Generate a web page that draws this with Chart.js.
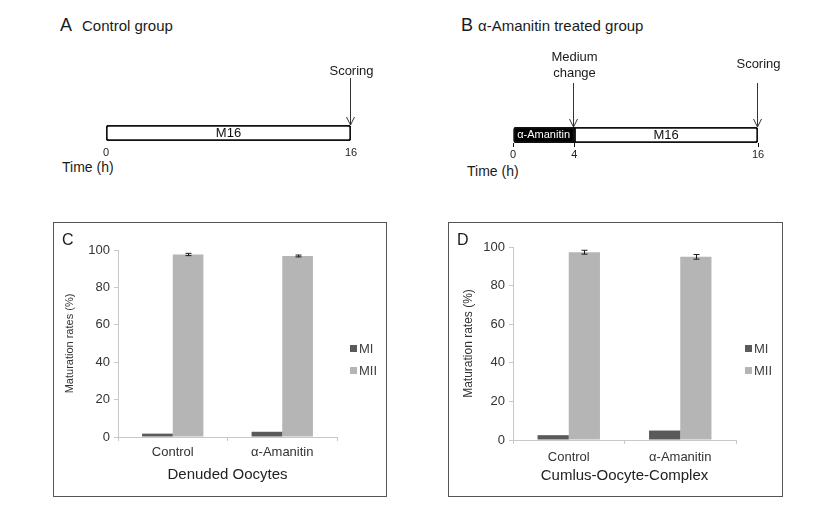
<!DOCTYPE html>
<html>
<head>
<meta charset="utf-8">
<script src="https://cdn.jsdelivr.net/npm/chart.js@4.4.1/dist/chart.umd.min.js"></script>
<style>
  body { margin: 0; background: #fff; font-family: "Liberation Sans", Arial, sans-serif; color: #1a1a1a; }
  #page { position: relative; width: 827px; height: 512px; overflow: hidden; background: #fff; }
  .txt { position: absolute; white-space: nowrap; line-height: 1; }
  .abs { position: absolute; }
  .box { position: absolute; border: 1px solid #555; box-sizing: border-box; }
  .box canvas { position: absolute; left: 0; top: 0; }
</style>
</head>
<body>
<div id="page">
  <span class="txt" style="left:60px;top:16px;font-size:18px">A</span>
  <span class="txt" style="left:82px;top:18px;font-size:15px">Control group</span>
  <span class="txt" style="left:62px;top:160px;font-size:14px">Time (h)</span>
  <canvas id="timelineA" class="abs" style="left:40px;top:40px" width="380" height="140"></canvas>

  <span class="txt" style="left:461px;top:16px;font-size:18px">B</span>
  <span class="txt" style="left:478px;top:18px;font-size:15px">α-Amanitin treated group</span>
  <span class="txt" style="left:467px;top:164px;font-size:14px">Time (h)</span>
  <canvas id="timelineB" class="abs" style="left:440px;top:40px" width="387" height="140"></canvas>

  <div class="box" style="left:53px;top:222px;width:334px;height:275px">
    <canvas id="denuded" width="332" height="273"></canvas>
    <span class="txt" style="left:8px;top:9px;font-size:16px">C</span>
  </div>
  <div class="box" style="left:448px;top:222px;width:335px;height:275px">
    <canvas id="complex" width="333" height="273"></canvas>
    <span class="txt" style="left:8px;top:9px;font-size:16px">D</span>
  </div>
</div>
<script>
// timelines (hours)
const timeTicksA = [0, 16];
const phasesA = [[0, 16]];
const phaseNamesA = ["M16"];
const marksA = [16];
const markNamesA = [["Scoring"]];

const timeTicksB = [0, 4, 16];
const phasesB = [[0, 4], [4, 16]];
const phaseNamesB = ["α-Amanitin", "M16"];
const marksB = [4, 16];
const markNamesB = [["Medium", "change"], ["Scoring"]];

// maturation rates (%)
const groups = ["Control", "α-Amanitin"];
const rateTicks = [0, 20, 40, 60, 80, 100];
const denudedMI = [1.8, 2.8];
const denudedMII = [97.6, 96.8];
const denudedMIIErr = [0.6, 0.5];
const complexMI = [2.5, 4.9];
const complexMII = [97.3, 94.9];
const complexMIIErr = [1.0, 1.2];

Chart.defaults.font.family = '"Liberation Sans", Arial, sans-serif';

const timelineMarks = {
  id: "timelineMarks",
  afterDraw(chart, args, opts) {
    const { ctx, chartArea } = chart;
    const x = chart.scales.x;
    ctx.save();
    ctx.textAlign = "center";
    ctx.textBaseline = "middle";
    chart.data.datasets.forEach((ds, i) => {
      const bar = chart.getDatasetMeta(i).data[0];
      const [from, to] = ds.data[0];
      const cx = (x.getPixelForValue(from) + x.getPixelForValue(to)) / 2;
      ctx.fillStyle = ds.textColor;
      ctx.font = `${ds.textSize}px "Liberation Sans", Arial, sans-serif`;
      ctx.fillText(ds.label, cx, bar.y);
    });
    ctx.strokeStyle = "#333";
    ctx.lineWidth = 1;
    ctx.fillStyle = "#1a1a1a";
    ctx.font = '13px "Liberation Sans", Arial, sans-serif';
    opts.marks.forEach((t, i) => {
      const px = Math.round(x.getPixelForValue(t)) - 0.5;
      const tip = chartArea.top;
      const start = tip - opts.arrowLength;
      ctx.beginPath();
      ctx.moveTo(px, start);
      ctx.lineTo(px, tip);
      ctx.moveTo(px - 4, tip - 8);
      ctx.lineTo(px, tip);
      ctx.lineTo(px + 4, tip - 8);
      ctx.stroke();
      const lines = opts.markNames[i];
      lines.forEach((line, j) => {
        const y = start - opts.labelOffsets[i] - (lines.length - 1 - j) * 16;
        ctx.fillText(line, px + 1, y);
      });
    });
    ctx.restore();
  },
};

function createTimeline(canvas, phases, names, styles, ticks, marks, markNames, cfg) {
  return new Chart(canvas, {
    type: "bar",
    data: {
      labels: [""],
      datasets: phases.map((phase, i) => ({
        label: names[i],
        data: [phase],
        backgroundColor: styles[i].fill,
        textColor: styles[i].text,
        textSize: styles[i].size,
        borderColor: "#111",
        borderWidth: 2,
        borderSkipped: false,
        borderRadius: styles[i].radius,
        barThickness: 16,
        grouped: false,
      })),
    },
    options: {
      indexAxis: "y",
      responsive: false,
      animation: false,
      events: [],
      layout: { padding: cfg.padding },
      plugins: {
        legend: { display: false },
        tooltip: { enabled: false },
        timelineMarks: {
          marks,
          markNames,
          arrowLength: cfg.arrowLength,
          labelOffsets: cfg.labelOffsets,
        },
      },
      scales: {
        x: {
          type: "linear",
          min: ticks[0],
          max: ticks[ticks.length - 1],
          afterBuildTicks: (scale) => {
            scale.ticks = ticks.map((value) => ({ value }));
          },
          afterFit: (scale) => {
            scale.height = 20;
          },
          border: { display: false },
          grid: { display: cfg.tickMarks, drawOnChartArea: false, tickLength: 4, color: "#111" },
          ticks: { padding: 1, color: "#222", font: { size: 11 } },
        },
        y: { display: false },
      },
    },
    plugins: [timelineMarks],
  });
}

const errorBars = {
  id: "errorBars",
  afterDatasetsDraw(chart) {
    const { ctx } = chart;
    const y = chart.scales.y;
    chart.data.datasets.forEach((ds, i) => {
      if (!ds.errors) return;
      chart.getDatasetMeta(i).data.forEach((bar, j) => {
        const top = y.getPixelForValue(ds.data[j] + ds.errors[j]);
        const bottom = y.getPixelForValue(ds.data[j] - ds.errors[j]);
        const bx = Math.round(bar.x) + 0.5;
        ctx.save();
        ctx.strokeStyle = "#1a1a1a";
        ctx.lineWidth = 1;
        ctx.beginPath();
        ctx.moveTo(bx, top);
        ctx.lineTo(bx, bottom);
        ctx.moveTo(bx - 3, top);
        ctx.lineTo(bx + 3, top);
        ctx.moveTo(bx - 3, bottom);
        ctx.lineTo(bx + 3, bottom);
        ctx.stroke();
        ctx.restore();
      });
    });
  },
};

const sideLegend = {
  id: "sideLegend",
  afterDraw(chart, args, opts) {
    const { ctx } = chart;
    ctx.save();
    ctx.font = '13px "Liberation Sans", Arial, sans-serif';
    ctx.textBaseline = "middle";
    chart.data.datasets.forEach((ds, i) => {
      const cy = opts.top + i * opts.spacing;
      ctx.fillStyle = ds.backgroundColor;
      ctx.fillRect(opts.x, cy - 3, 7, 7);
      ctx.fillStyle = "#404040";
      ctx.fillText(ds.label, opts.x + 9, cy + 1);
    });
    ctx.restore();
  },
};

function createRateChart(canvas, mi, mii, miiErr, xTitle, cfg) {
  return new Chart(canvas, {
    type: "bar",
    data: {
      labels: groups,
      datasets: [
        { label: "MI", data: mi, backgroundColor: "#5a5a5a" },
        { label: "MII", data: mii, errors: miiErr, backgroundColor: "#b5b5b5" },
      ],
    },
    options: {
      responsive: false,
      animation: false,
      events: [],
      layout: { padding: cfg.padding },
      datasets: { bar: { categoryPercentage: 0.56, barPercentage: 1 } },
      plugins: {
        legend: { display: false },
        tooltip: { enabled: false },
        sideLegend: { x: 296, top: 125, spacing: 22 },
      },
      scales: {
        x: {
          afterFit: (scale) => {
            scale.height = cfg.xHeight;
          },
          border: { color: "#c8c8c8" },
          grid: { offset: true, drawOnChartArea: false, tickLength: 4, color: "#c8c8c8" },
          ticks: { padding: cfg.xTickPad, color: "#333", font: { size: 13 } },
          title: { display: true, text: xTitle, padding: 0, color: "#222", font: { size: 15 } },
        },
        y: {
          min: 0,
          max: 100,
          afterBuildTicks: (scale) => {
            scale.ticks = rateTicks.map((value) => ({ value }));
          },
          afterFit: (scale) => {
            scale.width = cfg.yWidth;
          },
          border: { color: "#c8c8c8" },
          grid: { drawOnChartArea: false, tickLength: 4, color: "#c8c8c8" },
          ticks: { padding: 4, color: "#333", font: { size: 13 } },
          title: {
            display: true,
            text: "Maturation rates (%)",
            padding: 0,
            color: "#333",
            font: { size: cfg.yTitleSize },
          },
        },
      },
    },
    plugins: [errorBars, sideLegend],
  });
}

createTimeline(
  document.getElementById("timelineA"),
  phasesA,
  phaseNamesA,
  [{ fill: "#fff", text: "#111", size: 13, radius: 3 }],
  timeTicksA,
  marksA,
  markNamesA,
  { padding: { left: 66, right: 69, top: 85, bottom: 19 }, arrowLength: 47, labelOffsets: [7], tickMarks: false }
);

createTimeline(
  document.getElementById("timelineB"),
  phasesB,
  phaseNamesB,
  [
    { fill: "#000", text: "#fff", size: 11, radius: { topLeft: 3, bottomLeft: 3, topRight: 0, bottomRight: 0 } },
    { fill: "#fff", text: "#111", size: 13, radius: { topLeft: 0, bottomLeft: 0, topRight: 3, bottomRight: 3 } },
  ],
  timeTicksB,
  marksB,
  markNamesB,
  { padding: { left: 73, right: 69, top: 87, bottom: 17 }, arrowLength: 44, labelOffsets: [10, 19], tickMarks: true }
);

createRateChart(document.getElementById("denuded"), denudedMI, denudedMII, denudedMIIErr, "Denuded Oocytes", {
  padding: { left: 9, right: 49, top: 27, bottom: 12 },
  yWidth: 55,
  xHeight: 47,
  xTickPad: 4,
  yTitleSize: 11,
});

createRateChart(document.getElementById("complex"), complexMI, complexMII, complexMIIErr, "Cumlus-Oocyte-Complex", {
  padding: { left: 12, right: 46, top: 24, bottom: 11 },
  yWidth: 52,
  xHeight: 45,
  xTickPad: 6,
  yTitleSize: 12,
});
</script>
</body>
</html>
